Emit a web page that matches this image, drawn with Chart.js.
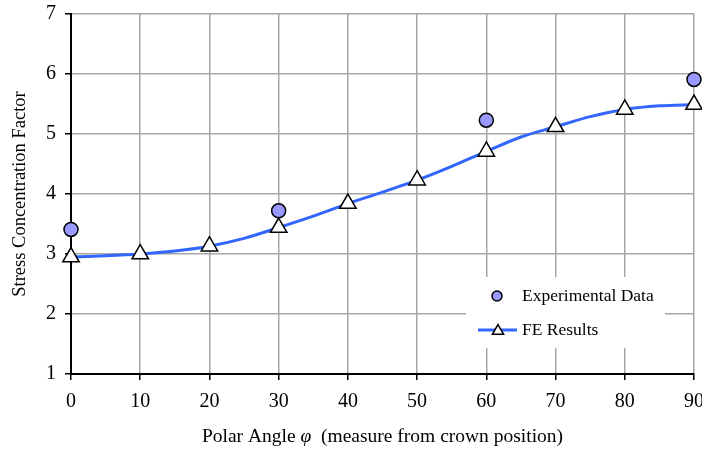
<!DOCTYPE html>
<html>
<head>
<meta charset="utf-8">
<script src="https://cdn.jsdelivr.net/npm/chart.js@4.4.1/dist/chart.umd.min.js"></script>
<style>
  html, body { margin: 0; padding: 0; background: #fff; }
  #wrap { width: 702px; height: 452px; }
</style>
</head>
<body>
<div id="wrap"><canvas id="chart" width="702" height="452"></canvas></div>
<script>
// FE curve, sampled every 5 degrees (markers only on the 10s)
const feAngles = [0, 5, 10, 15, 20, 25, 30, 35, 40, 45, 50, 55, 60, 65, 70, 75, 80, 85, 90];
const feValues = [2.95, 2.97, 3.0, 3.05, 3.13, 3.26, 3.44, 3.63, 3.84, 4.03, 4.23, 4.46, 4.71, 4.95, 5.12, 5.29, 5.41, 5.47, 5.49];

// Experimental points
const expAngles = [0, 30, 60, 90];
const expValues = [3.41, 3.72, 5.23, 5.91];

const xTicks = [0, 10, 20, 30, 40, 50, 60, 70, 80, 90];
const yTicks = [1, 2, 3, 4, 5, 6, 7];

const FONT = '"Liberation Serif", "Times New Roman", serif';
const LINE_BLUE = '#3366ff';
const DOT_FILL = '#9999ff';

// legend box drawn inside the plot, like the original
const innerLegend = {
  id: 'innerLegend',
  afterDatasetsDraw(chart) {
    const ctx = chart.ctx;
    ctx.save();
    ctx.fillStyle = '#fff';
    ctx.fillRect(466, 277, 199, 71);

    // Experimental Data
    ctx.beginPath();
    ctx.arc(497, 296, 5, 0, Math.PI * 2);
    ctx.fillStyle = DOT_FILL;
    ctx.fill();
    ctx.lineWidth = 1.5;
    ctx.strokeStyle = '#000';
    ctx.stroke();

    // FE Results
    ctx.beginPath();
    ctx.moveTo(478, 330);
    ctx.lineTo(517, 330);
    ctx.strokeStyle = LINE_BLUE;
    ctx.lineWidth = 3;
    ctx.stroke();
    const r = 6.5, cx = 498, cy = 331;
    ctx.beginPath();
    ctx.moveTo(cx, cy - r);
    ctx.lineTo(cx + r * 0.866, cy + r / 2);
    ctx.lineTo(cx - r * 0.866, cy + r / 2);
    ctx.closePath();
    ctx.fillStyle = '#fff';
    ctx.fill();
    ctx.strokeStyle = '#000';
    ctx.lineWidth = 1.5;
    ctx.stroke();

    ctx.fillStyle = '#000';
    ctx.font = '17.5px ' + FONT;
    ctx.textBaseline = 'middle';
    ctx.textAlign = 'left';
    ctx.fillText('Experimental Data', 522, 296);
    ctx.fillText('FE Results', 522, 330);
    ctx.restore();
  }
};

// x title with italic phi
const xTitle = {
  id: 'xTitle',
  afterDraw(chart) {
    const ctx = chart.ctx;
    const a = chart.chartArea;
    const parts = [
      ['Polar Angle ', '19.5px ' + FONT],
      ['\u03C6', 'italic 19.5px ' + FONT],
      ['  (measure from crown position)', '19.5px ' + FONT]
    ];
    ctx.save();
    let total = 0;
    parts.forEach(p => { ctx.font = p[1]; total += ctx.measureText(p[0]).width; });
    let x = (a.left + a.right) / 2 - total / 2;
    ctx.fillStyle = '#000';
    ctx.textBaseline = 'middle';
    ctx.textAlign = 'left';
    parts.forEach(p => {
      ctx.font = p[1];
      ctx.fillText(p[0], x, 437);
      x += ctx.measureText(p[0]).width;
    });
    ctx.restore();
  }
};

new Chart(document.getElementById('chart'), {
  type: 'scatter',
  data: {
    datasets: [
      {
        label: 'FE Results',
        data: feAngles.map((a, i) => ({ x: a, y: feValues[i] })),
        showLine: true,
        borderColor: LINE_BLUE,
        borderWidth: 3,
        tension: 0.3,
        pointStyle: 'triangle',
        pointRadius: feAngles.map(a => a % 10 === 0 ? 9.5 : 0),
        pointHoverRadius: feAngles.map(a => a % 10 === 0 ? 9.5 : 0),
        pointBackgroundColor: '#fff',
        pointBorderColor: '#000',
        pointBorderWidth: 1.5,
        clip: false
      },
      {
        label: 'Experimental Data',
        data: expAngles.map((a, i) => ({ x: a, y: expValues[i] })),
        showLine: false,
        pointStyle: 'circle',
        pointRadius: 7,
        pointBackgroundColor: DOT_FILL,
        pointBorderColor: '#000',
        pointBorderWidth: 1.5,
        clip: false
      }
    ]
  },
  options: {
    responsive: false,
    animation: false,
    layout: { autoPadding: false, padding: { left: 0, right: 8, top: 14, bottom: 0 } },
    plugins: {
      legend: { display: false },
      tooltip: { enabled: false }
    },
    scales: {
      x: {
        type: 'linear',
        min: 0,
        max: 90,
        afterBuildTicks: s => { s.ticks = xTicks.map(v => ({ value: v })); },
        afterFit: s => { s.height = 78; s.paddingLeft = 0; s.paddingRight = 0; },
        grid: { color: '#a6a6a6', lineWidth: 1.5, tickColor: '#000', tickLength: 6 },
        border: { color: '#000', width: 2 },
        ticks: { color: '#000', padding: 10, font: { family: FONT, size: 20 } }
      },
      y: {
        min: 1,
        max: 7,
        afterBuildTicks: s => { s.ticks = yTicks.map(v => ({ value: v })); },
        afterFit: s => { s.width = 71; s.paddingTop = 0; s.paddingBottom = 0; },
        grid: { color: '#a6a6a6', lineWidth: 1.5, tickColor: '#000', tickLength: 6 },
        border: { color: '#000', width: 2 },
        ticks: { color: '#000', padding: 9, font: { family: FONT, size: 20 } },
        title: {
          display: true,
          text: 'Stress Concentration Factor',
          color: '#000',
          padding: { top: 9, bottom: 0 },
          font: { family: FONT, size: 18.5 }
        }
      }
    }
  },
  plugins: [innerLegend, xTitle]
});
</script>
</body>
</html>
